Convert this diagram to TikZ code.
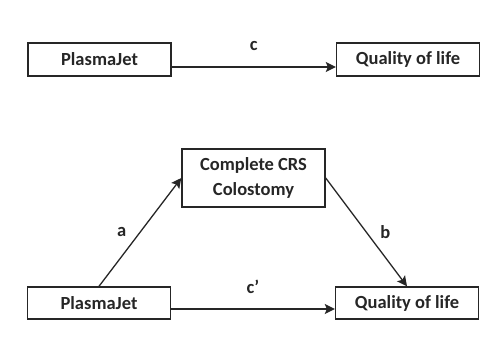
\documentclass[tikz,border=0pt]{standalone}
\usepackage{fontspec}
\setmainfont{Carlito}
\usepackage{tikz}
\usetikzlibrary{arrows.meta}

\definecolor{ink}{HTML}{262626}

\begin{document}
\begin{tikzpicture}[x=1pt,y=-1pt,
    box/.style={draw=ink,line width=1.4pt,text=ink,minimum width=143pt,
      font=\fontsize{18.5}{25}\selectfont\bfseries,inner sep=0pt,align=center},
    lbl/.style={text=ink,font=\fontsize{18.5}{21}\selectfont\bfseries}]
  \useasboundingbox (0,0) rectangle (496,364);
  % total effect
  \node[box,minimum height=33pt] (pj1) at (99.5,59.5) {PlasmaJet};
  \node[box,minimum height=33pt] (qol1) at (408,59.5) {Quality of life};
  % mediation model
  \node[box,minimum height=58pt] (crs) at (253.5,178) {Complete CRS\\Colostomy};
  \node[box,minimum height=32pt] (pj2) at (99,303) {PlasmaJet};
  \node[box,minimum height=32pt] (qol2) at (407,303) {Quality of life};
  \path[-{Stealth[length=10pt,width=10pt,inset=2pt]},color=ink,line width=1.3pt]
    ([yshift=-7.5pt]pj1.east) edge node [lbl,above=12pt] {c} ([yshift=-7.5pt]qol1.west)
    (pj2.north) edge node [lbl,left=10pt] {a} (crs.west)
    (crs.east) edge node [lbl,right=10pt] {b} (qol2.north)
    ([yshift=-6pt]pj2.east) edge node [lbl,above=11pt] {c’} ([yshift=-6pt]qol2.west);
\end{tikzpicture}
\end{document}
